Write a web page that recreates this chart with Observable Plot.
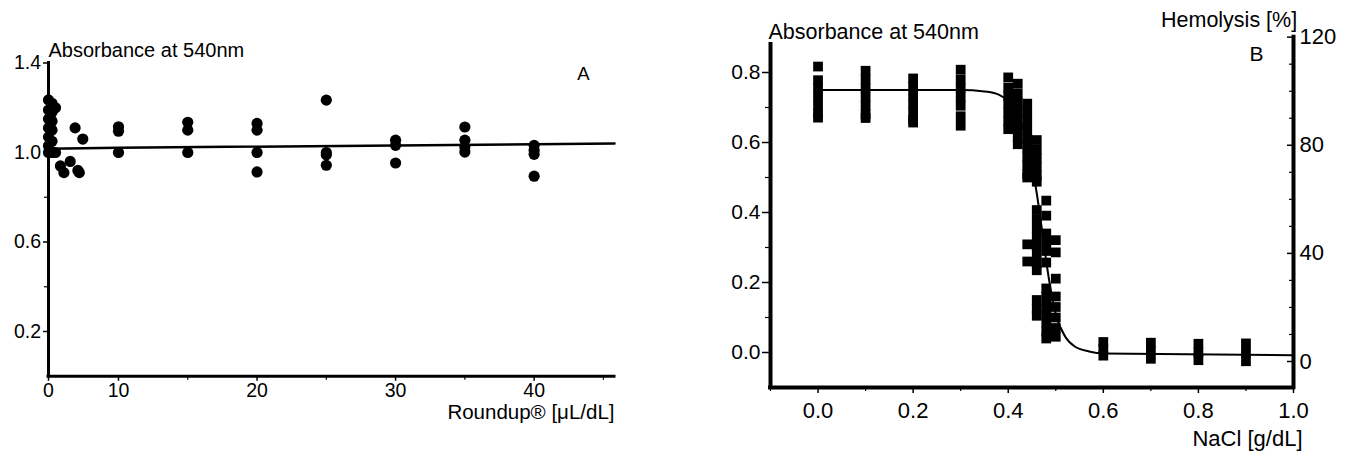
<!DOCTYPE html>
<html><head><meta charset="utf-8">
<script src="https://cdn.jsdelivr.net/npm/d3@7"></script>
<script src="https://cdn.jsdelivr.net/npm/@observablehq/plot@0.6"></script>
<style>
body{margin:0;background:#fff;}
#wrap{position:relative;width:1351px;height:452px;overflow:hidden;background:#fff;}
#a{position:absolute;left:0;top:0;}
#b{position:absolute;left:680px;top:0;}
</style></head><body><div id="wrap"><div id="a"></div><div id="b"></div></div>
<script>
// ---------- Panel A data ----------
const aTitle = "Absorbance at 540nm";
const aLetter = "A";
const aXLabel = "Roundup® [μL/dL]";
const aXTicks = [0, 10, 20, 30, 40];
const aXMinor = [15, 25, 35, 45];
const aYTicks = [0.2, 0.6, 1.0, 1.4];
const aYMinor = [0.4, 0.8, 1.2];
const aDose = [0,0,0,0,0,0,0, 0.5,0.5,0.5,0.5,0.5,0.5, 1,1,
  1.7,2.2,3.1,3.8,4.2,4.4,4.9,
  10,10,10, 15,15,15, 20,20,20,20, 25,25,25,25, 30,30,30, 35,35,35,35, 40,40,40,40];
const aAbs = [1.00,1.03,1.07,1.11,1.15,1.19,1.235, 1.00,1.05,1.10,1.14,1.18,1.22, 1.00,1.20,
  0.94,0.91,0.96,1.11,0.92,0.91,1.06,
  1.115,1.095,1.00, 1.135,1.10,1.00, 1.13,1.10,1.00,0.913, 1.234,1.00,0.99,0.943,
  1.055,1.032,0.953, 1.114,1.055,1.025,1.002, 1.032,1.01,0.992,0.894];
const aFitDose = [0, 10, 45.8];
const aFitAbs = [1.017, 1.021, 1.04];

// ---------- Panel B data ----------
const bTitle = "Absorbance at 540nm";
const bRightTitle = "Hemolysis [%]";
const bLetter = "B";
const bXLabel = "NaCl [g/dL]";
const bXTicks = [0, 0.2, 0.4, 0.6, 0.8, 1.0];
const bXMinor = [-0.1, 0.1, 0.3, 0.5, 0.7, 0.9];
const bYTicks = [0, 0.2, 0.4, 0.6, 0.8];
const bYMinor = [0.1, 0.3, 0.5, 0.7];
const hemoTicks = [0, 40, 80, 120];
const hemoMinor = [10, 20, 30, 50, 60, 70, 90, 100, 110];
const bNaCl = [
  0,0,0,0,0,0,0,
  0.1,0.1,0.1,0.1,0.1,0.1,0.1,
  0.2,0.2,0.2,0.2,0.2,0.2,0.2,
  0.3,0.3,0.3,0.3,0.3,0.3,0.3,
  0.40,0.40,0.40,0.40,0.40,0.40,0.40,
  0.42,0.42,0.42,0.42,0.42,0.42,0.42,0.42,
  0.44,0.44,0.44,0.44,0.44,0.44,0.44,0.44,0.44,0.44,0.44,0.44,
  0.46,0.46,0.46,0.46,0.46,0.46,0.46,0.46,0.46,0.46,0.46,0.46,0.46,0.46,0.46,0.46,0.46,
  0.48,0.48,0.48,0.48,0.48,0.48,0.48,0.48,0.48,0.48,0.48,0.48,0.48,
  0.50,0.50,0.50,0.50,0.50,0.50,0.50,0.50,
  0.6,0.6,0.6, 0.7,0.7,0.7, 0.8,0.8,0.8, 0.9,0.9,0.9];
const bAbs = [
  0.817,0.778,0.755,0.73,0.705,0.683,0.671,
  0.805,0.78,0.755,0.73,0.705,0.68,0.67,
  0.783,0.76,0.735,0.71,0.685,0.665,0.657,
  0.808,0.78,0.755,0.73,0.705,0.675,0.648,
  0.786,0.757,0.733,0.71,0.685,0.66,0.638,
  0.768,0.74,0.715,0.69,0.665,0.64,0.615,0.595,
  0.711,0.685,0.66,0.635,0.61,0.585,0.56,0.535,0.51,0.50,0.309,0.26,
  0.607,0.58,0.555,0.53,0.505,0.488,0.407,0.38,0.355,0.33,0.305,0.28,0.255,0.235,0.15,0.125,0.105,
  0.434,0.391,0.34,0.315,0.29,0.257,0.183,0.16,0.135,0.11,0.085,0.06,0.04,
  0.321,0.286,0.211,0.16,0.13,0.10,0.07,0.045,
  0.03,0.01,-0.009, 0.028,0.005,-0.018, 0.025,0.0,-0.022, 0.026,0.0,-0.025];
const bFitNaCl = [0, 0.30, 0.35, 0.38, 0.40, 0.42, 0.44, 0.45, 0.46, 0.47, 0.48, 0.49, 0.50, 0.52, 0.54, 0.57, 0.60, 1.00];
const bFitAbs  = [0.750, 0.750, 0.746, 0.737, 0.718, 0.680, 0.600, 0.535, 0.455, 0.36, 0.26, 0.175, 0.11, 0.045, 0.017, 0.003, -0.003, -0.008];

// ---------- drawing ----------
const FONT = "'Liberation Sans', Arial, Helvetica, sans-serif";
const fmt1 = d3.format(".1f");
const blank = () => "";

const tableA = aDose.map((x, i) => ({dose: x, abs: aAbs[i]}));
const fitA = aFitDose.map((x, i) => ({dose: x, abs: aFitAbs[i]}));

const plotA = Plot.plot({
  width: 680, height: 452,
  marginLeft: 48, marginRight: 66, marginTop: 62.5, marginBottom: 76.25,
  style: {fontFamily: FONT, fontSize: "19.5px", color: "black", background: "white", overflow: "visible"},
  x: {type: "linear", domain: [0, 10, 45.8], range: [48, 118, 614], axis: null},
  y: {domain: [0, 1.4], axis: null},
  marks: [
    Plot.axisY(aYTicks, {anchor: "left", tickSize: 5, tickPadding: 2.5, tickFormat: fmt1, strokeWidth: 1.5, fontSize: 19.5, label: null}),
    Plot.axisY(aYMinor, {anchor: "left", tickSize: 4, tickFormat: blank, strokeWidth: 1.2, label: null}),
    Plot.axisX(aXTicks, {anchor: "bottom", tickSize: 5, tickPadding: 2, tickFormat: d => String(d), strokeWidth: 1.5, fontSize: 19.5, label: null}),
    Plot.axisX(aXMinor, {anchor: "bottom", tickSize: 4, tickFormat: blank, strokeWidth: 1.2, label: null}),
    Plot.ruleX([0], {y1: 0, y2: 1.4, strokeWidth: 3, strokeLinecap: "square"}),
    Plot.ruleY([0], {x1: 0, x2: 45.8, strokeWidth: 3, strokeLinecap: "square"}),
    Plot.line(fitA, {x: "dose", y: "abs", strokeWidth: 2.5}),
    Plot.dot(tableA, {x: "dose", y: "abs", r: 5.6, fill: "black"}),
    Plot.text([aTitle], {frameAnchor: "top-left", textAnchor: "start", lineAnchor: "middle", dy: -12.5, fontSize: 20}),
    Plot.text([aLetter], {frameAnchor: "top-right", textAnchor: "middle", lineAnchor: "middle", dx: -31, dy: 11, fontSize: 18.5}),
    Plot.text([aXLabel], {frameAnchor: "bottom-right", textAnchor: "end", lineAnchor: "middle", dy: 36, fontSize: 20.5})
  ]
});
document.getElementById("a").appendChild(plotA);

const tableB = bNaCl.map((x, i) => ({nacl: x, abs: bAbs[i]}));
const fitB = bFitNaCl.map((x, i) => ({nacl: x, abs: bFitAbs[i]}));
// right-hand hemolysis axis expressed on the absorbance scale
const hemo = d3.scaleLinear().domain([0, 120]).range([-0.0257, 0.901]);
const hemoFmt = d => String(Math.round(hemo.invert(d)));
const frameW = 613 - 90;

const plotB = Plot.plot({
  width: 671, height: 452,
  marginLeft: 90, marginRight: 58, marginTop: 36.65, marginBottom: 65,
  style: {fontFamily: FONT, fontSize: "21px", color: "black", background: "white", overflow: "visible"},
  x: {domain: [-0.1, 1.0], axis: null},
  y: {domain: [-0.1, 0.901], axis: null},
  marks: [
    Plot.axisY(bYTicks, {anchor: "left", tickSize: 8, tickPadding: 2, tickFormat: fmt1, strokeWidth: 1.5, fontSize: 21, label: null}),
    Plot.axisY(bYMinor, {anchor: "left", tickSize: 5, tickFormat: blank, strokeWidth: 1.2, label: null}),
    Plot.axisY(hemoTicks.map(hemo), {anchor: "left", dx: frameW, tickSize: 6, tickFormat: blank, strokeWidth: 1.5, label: null}),
    Plot.axisY(hemoMinor.map(hemo), {anchor: "left", dx: frameW, tickSize: 4, tickFormat: blank, strokeWidth: 1.2, label: null}),
    Plot.axisY(hemoTicks.map(hemo), {anchor: "right", tickSize: 0, tickPadding: 6, tickFormat: hemoFmt, fontSize: 22, label: null}),
    Plot.axisX(bXTicks, {anchor: "bottom", tickSize: 6, tickPadding: 9, tickFormat: fmt1, strokeWidth: 1.5, fontSize: 22, label: null}),
    Plot.axisX(bXMinor, {anchor: "bottom", tickSize: 4, tickFormat: blank, strokeWidth: 1.2, label: null}),
    Plot.ruleX([-0.1], {y1: -0.1, y2: 0.88, strokeWidth: 4, strokeLinecap: "square"}),
    Plot.ruleX([1.0], {y1: -0.1, y2: 0.901, strokeWidth: 4, strokeLinecap: "square"}),
    Plot.ruleY([-0.1], {x1: -0.1, x2: 1.0, strokeWidth: 4, strokeLinecap: "square"}),
    Plot.line(fitB, {x: "nacl", y: "abs", strokeWidth: 2, curve: "monotone-x"}),
    Plot.dot(tableB, {x: "nacl", y: "abs", symbol: "square", r: 5.5, fill: "black"}),
    Plot.text([bTitle], {frameAnchor: "top-left", textAnchor: "start", lineAnchor: "middle", dx: -2, dy: -5.3, fontSize: 21.5}),
    Plot.text([bRightTitle], {frameAnchor: "top-right", textAnchor: "end", lineAnchor: "middle", dx: 3.7, dy: -16.7, fontSize: 21.5}),
    Plot.text([bLetter], {frameAnchor: "top-right", textAnchor: "middle", lineAnchor: "middle", dx: -37, dy: 17.5, fontSize: 21}),
    Plot.text([bXLabel], {frameAnchor: "bottom-right", textAnchor: "end", lineAnchor: "middle", dx: 9, dy: 51, fontSize: 22})
  ]
});
document.getElementById("b").appendChild(plotB);
</script></body></html>
